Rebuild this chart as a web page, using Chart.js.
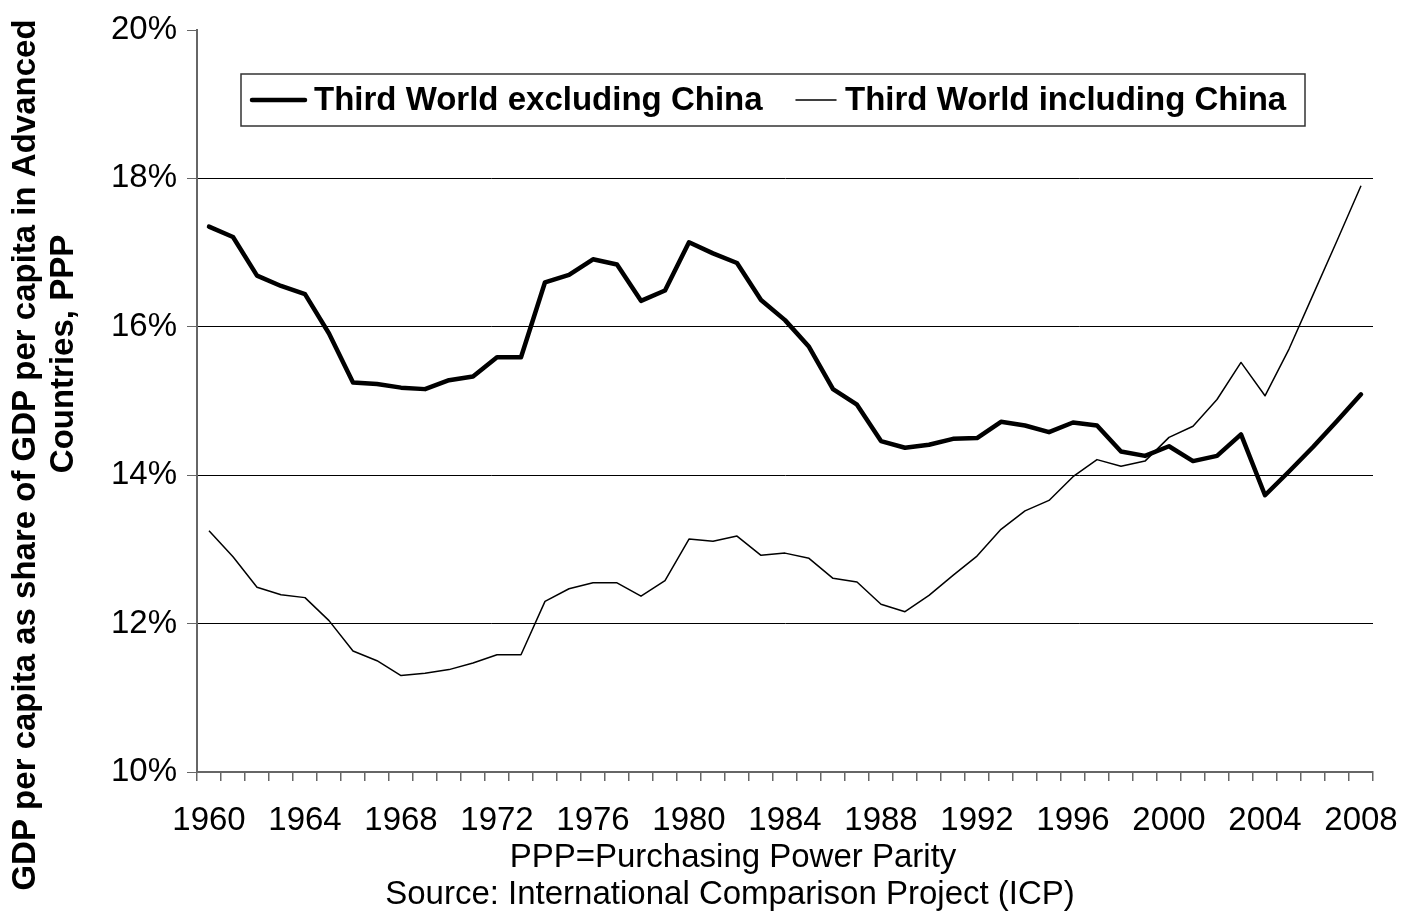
<!DOCTYPE html>
<html>
<head>
<meta charset="utf-8">
<script src="https://cdn.jsdelivr.net/npm/chart.js@4/dist/chart.umd.min.js"></script>
<style>
    body { margin: 0; background: #ffffff; }
    #gdpChart { display: block; }
</style>
</head>
<body>
<canvas id="gdpChart" width="1403" height="920"></canvas>
<script>
const years = ["1960", "1961", "1962", "1963", "1964", "1965", "1966", "1967", "1968", "1969",
    "1970", "1971", "1972", "1973", "1974", "1975", "1976", "1977", "1978", "1979",
    "1980", "1981", "1982", "1983", "1984", "1985", "1986", "1987", "1988", "1989",
    "1990", "1991", "1992", "1993", "1994", "1995", "1996", "1997", "1998", "1999",
    "2000", "2001", "2002", "2003", "2004", "2005", "2006", "2007", "2008"];

const excluding_china = [17.35, 17.21, 16.69, 16.55, 16.44, 15.91, 15.25, 15.23, 15.18, 15.16,
    15.28, 15.33, 15.59, 15.59, 16.60, 16.70, 16.91, 16.84, 16.35, 16.49,
    17.14, 16.99, 16.86, 16.36, 16.09, 15.73, 15.16, 14.95, 14.46, 14.37,
    14.41, 14.49, 14.50, 14.72, 14.67, 14.58, 14.71, 14.67, 14.32, 14.26,
    14.39, 14.19, 14.26, 14.55, 13.73, 14.05, 14.38, 14.73, 15.09];

const including_china = [13.25, 12.90, 12.49, 12.39, 12.35, 12.04, 11.63, 11.50, 11.30, 11.33,
    11.38, 11.47, 11.58, 11.58, 12.30, 12.47, 12.55, 12.55, 12.37, 12.58,
    13.14, 13.11, 13.18, 12.92, 12.95, 12.88, 12.61, 12.56, 12.26, 12.16,
    12.38, 12.65, 12.91, 13.27, 13.52, 13.66, 13.98, 14.21, 14.12, 14.19,
    14.51, 14.66, 15.02, 15.52, 15.07, 15.70, 16.43, 17.16, 17.90];

const series_labels = ["Third World excluding China", "Third World including China"];
const y_title = ["GDP per capita as share of GDP per capita in Advanced", "Countries, PPP"];
const notes = ["PPP=Purchasing Power Parity", "Source: International Comparison Project (ICP)"];

const fontFamily = "'Liberation Sans', Arial, sans-serif";
const axisGray = "#666666";

// legend box, y axis title and source notes, drawn on top of the chart
const extrasPlugin = {
    id: "extras",
    afterDraw(chart) {
        const ctx = chart.ctx;
        ctx.save();
        ctx.fillStyle = "#000";

        // y axis title, two rotated lines
        ctx.font = "bold 33px " + fontFamily;
        ctx.textAlign = "center";
        ctx.textBaseline = "middle";
        [[26, 455], [64, 354]].forEach(([cx, cy], i) => {
            ctx.save();
            ctx.translate(cx, cy);
            ctx.rotate(-Math.PI / 2);
            ctx.fillText(y_title[i], 0, 0);
            ctx.restore();
        });

        // notes under the x axis
        ctx.font = "33px " + fontFamily;
        ctx.fillText(notes[0], 733, 858);
        ctx.fillText(notes[1], 730, 895);

        // legend
        ctx.fillStyle = "#fff";
        ctx.fillRect(241, 74, 1064, 52);
        ctx.strokeStyle = "#333";
        ctx.lineWidth = 1.5;
        ctx.strokeRect(241, 74, 1064, 52);
        ctx.font = "bold 33px " + fontFamily;
        ctx.textAlign = "left";
        ctx.fillStyle = "#000";
        const entries = [[252, 305, 314], [796, 836, 845]];
        chart.data.datasets.forEach((ds, i) => {
            const [x1, x2, tx] = entries[i];
            ctx.beginPath();
            ctx.strokeStyle = ds.borderColor;
            ctx.lineWidth = ds.borderWidth;
            ctx.lineCap = "round";
            ctx.moveTo(x1, 100);
            ctx.lineTo(x2, 100);
            ctx.stroke();
            ctx.fillText(ds.label, tx, 101);
        });
        ctx.restore();
    }
};

new Chart(document.getElementById("gdpChart"), {
    type: "line",
    data: {
        labels: years,
        datasets: [{
            label: series_labels[0],
            data: excluding_china,
            borderColor: "#000",
            borderWidth: 4.5,
            borderJoinStyle: "round",
            borderCapStyle: "round",
            pointRadius: 0,
            tension: 0
        }, {
            label: series_labels[1],
            data: including_china,
            borderColor: "#000",
            borderWidth: 1.5,
            borderJoinStyle: "round",
            pointRadius: 0,
            tension: 0
        }]
    },
    options: {
        responsive: false,
        animation: false,
        devicePixelRatio: 1,
        layout: {
            padding: { top: 30, right: 30, bottom: 0, left: 0 }
        },
        plugins: {
            legend: { display: false },
            tooltip: { enabled: false }
        },
        scales: {
            x: {
                offset: true,
                afterFit(scale) {
                    scale.height = 148;
                    scale.paddingRight = 0;
                    scale.paddingLeft = 0;
                },
                border: { color: axisGray, width: 2 },
                grid: {
                    offset: true,
                    drawOnChartArea: false,
                    drawTicks: true,
                    tickLength: 9,
                    tickColor: axisGray,
                    lineWidth: 1.5
                },
                ticks: {
                    autoSkip: false,
                    maxRotation: 0,
                    padding: 20,
                    color: "#000",
                    font: { family: fontFamily, size: 33 },
                    callback(value, index) {
                        return index % 4 === 0 ? years[index] : "";
                    }
                }
            },
            y: {
                min: 10,
                max: 20,
                afterFit(scale) { scale.width = 197; },
                border: { color: axisGray, width: 2 },
                grid: {
                    color: ctx => (ctx.tick && ctx.tick.value === 20) ? "rgba(0,0,0,0)" : "#000",
                    lineWidth: 1,
                    tickLength: 10,
                    tickColor: axisGray
                },
                ticks: {
                    stepSize: 2,
                    padding: 10,
                    color: "#000",
                    font: { family: fontFamily, size: 33 },
                    callback: value => value + "%"
                }
            }
        }
    },
    plugins: [extrasPlugin]
});
</script>
</body>
</html>
